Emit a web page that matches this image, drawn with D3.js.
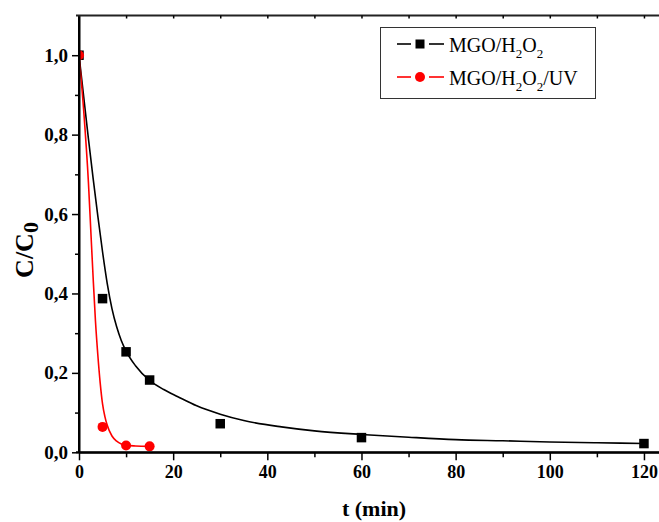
<!DOCTYPE html>
<html>
<head>
<meta charset="utf-8">
<script src="https://cdn.jsdelivr.net/npm/d3@7"></script>
<style>
  html, body { margin: 0; padding: 0; background: #fff; }
  svg { display: block; }
  text { font-family: "Liberation Serif", "Times New Roman", serif; }
</style>
</head>
<body>
<div id="chart"></div>
<script>
// ---- data ----
const timePoints = [0, 5, 10, 15, 30, 60, 120];
const mgoH2O2 = [1.0, 0.387, 0.253, 0.182, 0.072, 0.037, 0.022];
const timePointsUV = [0, 5, 10, 15];
const mgoH2O2UV = [1.0, 0.064, 0.017, 0.015];

// fitted curves
const fitT = [0, 1, 2, 3, 4, 5, 6, 7, 8, 9, 10, 12, 15, 18, 21, 25, 30, 35, 43, 50, 60, 70, 80, 90, 100, 110, 120];
const fitH2O2 = [1.0, 0.895, 0.79, 0.69, 0.595, 0.505, 0.425, 0.362, 0.316, 0.281, 0.255, 0.218, 0.181, 0.158, 0.14, 0.117, 0.096, 0.08, 0.064, 0.054, 0.045, 0.038, 0.032, 0.029, 0.026, 0.024, 0.022];
const fitTUV = [0, 1, 2, 2.5, 3, 3.5, 4, 4.5, 5, 5.5, 6, 7, 8, 9, 10, 12, 15];
const fitUV = [1.0, 0.86, 0.68, 0.56, 0.44, 0.33, 0.245, 0.175, 0.122, 0.09, 0.068, 0.041, 0.028, 0.021, 0.018, 0.016, 0.015];

const xTicks = [0, 20, 40, 60, 80, 100, 120];
const xMinor = [10, 30, 50, 70, 90, 110];
const yTicks = [0, 0.2, 0.4, 0.6, 0.8, 1.0];
const yMinor = [0.1, 0.3, 0.5, 0.7, 0.9];
const seriesNames = ["MGO/H2O2", "MGO/H2O2/UV"];

// ---- drawing ----
const W = 659, H = 522;
const svg = d3.select("#chart").append("svg").attr("width", W).attr("height", H);
svg.append("rect").attr("width", W).attr("height", H).attr("fill", "#fff");

const x = d3.scaleLinear().domain([0, 125]).range([79, 667.5]);
const y = d3.scaleLinear().domain([0, 1.1]).range([452.3, 15.5]);

svg.append("defs").append("clipPath").attr("id", "plotClip")
  .append("rect").attr("x", x(0)).attr("y", y(1.1)).attr("width", x(125) - x(0)).attr("height", y(0) - y(1.1));

const plot = svg.append("g").attr("clip-path", "url(#plotClip)");

const line = d3.line().x(d => x(d[0])).y(d => y(d[1])).curve(d3.curveMonotoneX);

plot.append("path").datum(fitT.map((t, i) => [t, fitH2O2[i]]))
  .attr("d", line).attr("fill", "none").attr("stroke", "#000").attr("stroke-width", 1.6);
plot.append("path").datum(fitTUV.map((t, i) => [t, fitUV[i]]))
  .attr("d", line).attr("fill", "none").attr("stroke", "#ff0000").attr("stroke-width", 1.6);

const sq = 9.5;
plot.selectAll("rect.sq").data(timePoints.map((t, i) => [t, mgoH2O2[i]])).enter()
  .append("rect").attr("class", "sq")
  .attr("x", d => x(d[0]) - sq / 2).attr("y", d => y(d[1]) - sq / 2)
  .attr("width", sq).attr("height", sq).attr("fill", "#000");
plot.selectAll("circle.ci").data(timePointsUV.map((t, i) => [t, mgoH2O2UV[i]])).enter()
  .append("circle").attr("class", "ci")
  .attr("cx", d => x(d[0])).attr("cy", d => y(d[1])).attr("r", 5).attr("fill", "#ff0000");

// axes
const fmt = d => d3.format(".1f")(d).replace(".", ",");
const xAxis = svg.append("g").attr("transform", `translate(0,${y(0)})`)
  .call(d3.axisBottom(x).tickValues(xTicks).tickSize(8).tickSizeOuter(0).tickPadding(5).tickFormat(d3.format("d")));
const xMin = svg.append("g").attr("transform", `translate(0,${y(0)})`)
  .call(d3.axisBottom(x).tickValues(xMinor).tickSize(5).tickSizeOuter(0).tickFormat(""));
const yAxis = svg.append("g").attr("transform", `translate(${x(0)},0)`)
  .call(d3.axisLeft(y).tickValues(yTicks).tickSize(7).tickSizeOuter(0).tickPadding(4).tickFormat(fmt));
const yMin = svg.append("g").attr("transform", `translate(${x(0)},0)`)
  .call(d3.axisLeft(y).tickValues(yMinor).tickSize(4).tickSizeOuter(0).tickFormat(""));
const topAxis = svg.append("g").attr("transform", `translate(0,${y(1.1)})`)
  .call(d3.axisBottom(x).tickValues(d3.range(10, 125, 10)).tickSize(3).tickSizeOuter(0).tickFormat(""));

[xAxis, xMin, yAxis, yMin, topAxis].forEach(g => {
  g.select(".domain").attr("stroke", "#000").attr("stroke-width", 2);
  g.selectAll(".tick line").attr("stroke", "#000").attr("stroke-width", 1.5);
  g.selectAll(".tick text").attr("fill", "#000").attr("font-weight", "bold")
    .attr("font-family", "Liberation Serif, Times New Roman, serif");
});
xAxis.selectAll(".tick text").attr("font-size", 18);
yAxis.selectAll(".tick text").attr("font-size", 19);
xAxis.select(".domain").attr("d", `M${x(0) - 3},0H${W}`);
topAxis.select(".domain").attr("d", `M${x(0) - 3},0H${W}`).attr("stroke", "#222");
yAxis.select(".domain").attr("d", `M0,${y(0)}V${y(1.1)}`);

// axis titles
svg.append("text").attr("x", 374).attr("y", 516).attr("text-anchor", "middle")
  .attr("font-size", 22).attr("font-weight", "bold").text("t (min)");
const yt = svg.append("text").attr("transform", `translate(33,250) rotate(-90)`)
  .attr("text-anchor", "middle").attr("font-size", 26).attr("font-weight", "bold");
yt.append("tspan").text("C/C");
yt.append("tspan").attr("dy", 5).attr("font-size", 22).text("0");

// legend
const lg = svg.append("g");
lg.append("rect").attr("x", 380.5).attr("y", 27.5).attr("width", 215).attr("height", 71)
  .attr("fill", "#fff").attr("stroke", "#333").attr("stroke-width", 1);
const rows = [
  {name: seriesNames[0], color: "#000", shape: "sq", ly: 44, ty: 51.5, parts: [["MGO/H", 0], ["2", 1], ["O", 0], ["2", 1]]},
  {name: seriesNames[1], color: "#ff0000", shape: "ci", ly: 77, ty: 84.5, parts: [["MGO/H", 0], ["2", 1], ["O", 0], ["2", 1], ["/UV", 0]]}
];
rows.forEach(r => {
  lg.append("line").attr("x1", 397).attr("x2", 411).attr("y1", r.ly).attr("y2", r.ly).attr("stroke", r.color).attr("stroke-width", 1.6);
  lg.append("line").attr("x1", 429).attr("x2", 444).attr("y1", r.ly).attr("y2", r.ly).attr("stroke", r.color).attr("stroke-width", 1.6);
  if (r.shape === "sq") {
    lg.append("rect").attr("x", 420 - 4.5).attr("y", r.ly - 4.5).attr("width", 9).attr("height", 9).attr("fill", r.color);
  } else {
    lg.append("circle").attr("cx", 420).attr("cy", r.ly).attr("r", 5).attr("fill", r.color);
  }
  const t = lg.append("text").attr("x", 449).attr("y", r.ty).attr("font-size", 20);
  let sub = false;
  r.parts.forEach(p => {
    const ts = t.append("tspan").text(p[0]);
    if (p[1] && !sub) { ts.attr("dy", 6).attr("font-size", 13); sub = true; }
    else if (!p[1] && sub) { ts.attr("dy", -6); sub = false; }
    else if (p[1]) { ts.attr("font-size", 13); }
  });
});
</script>
</body>
</html>
